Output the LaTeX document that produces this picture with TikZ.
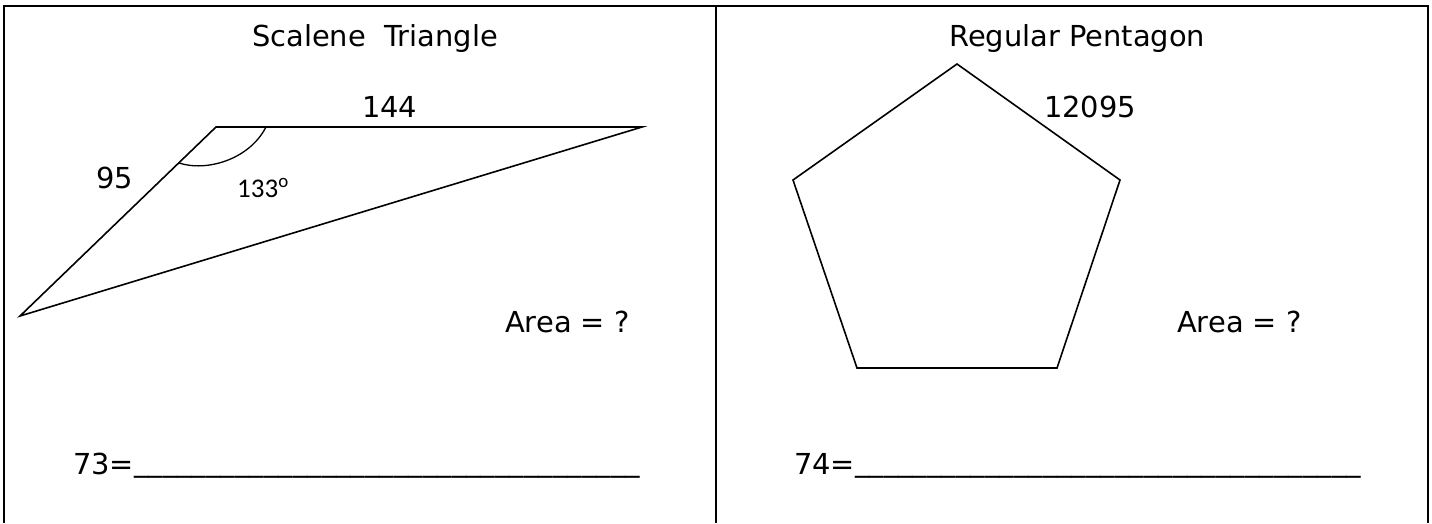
\documentclass[tikz,border=0pt]{standalone}
\usepackage{fontspec}
\setmainfont{DejaVu Sans}
\newfontfamily\anglefont{Carlito}
\usetikzlibrary{calc}
\tikzset{
  frameline/.style={line width=2pt, draw=black},
  figline/.style={line width=1.6pt, draw=black, line join=miter},
  arcline/.style={line width=1.3pt, draw=black},
  heading/.style={inner sep=0pt, anchor=base west, font=\fontsize{28.9}{34}\selectfont},
  dimtext/.style={inner sep=0pt, anchor=base west, font=\fontsize{28.9}{34}\selectfont},
  angletext/.style={inner sep=0pt, anchor=base west, font=\anglefont\fontsize{27}{32}\selectfont},
  answer/.style={inner sep=0pt, anchor=base west, font=\fontsize{28.9}{34}\selectfont}
}
\newcommand{\blank}{\raisebox{3pt}{\_\_\_\_\_\_\_\_\_\_\_\_\_\_\_\_\_\_\_\_\_\_\_\_\_\_\_\_\_\_\_\_\_\_\_}}

\begin{document}
\begin{tikzpicture}[x=1pt, y=-1pt]
\useasboundingbox (0,0) rectangle (1432,523);
\draw[frameline] (4,523) -- (4,6) -- (1428,6) -- (1428,523);
\draw[frameline] (716,6) -- (716,523);
% left panel
\node[heading] (ttri) at (252,46) {Scalene\ \ Triangle};
\coordinate (ta) at (216,127);
\coordinate (tb) at (642,127);
\coordinate (tc) at (20,316);
\draw[figline] (ta) -- (tb) -- (tc) -- cycle;
\coordinate (arcs) at (266,127);
\coordinate (arce) at ($(ta)!0.19!(tc)$);
\draw[arcline] (arcs) .. controls (249,160) and (206,172) .. (arce);
\node[dimtext] (top) at (362,117) {144};
\node[dimtext] (side) at (96,188) {95};
\node[angletext] (ang) at (237,197) {133\textsuperscript{o}};
\node[dimtext] (areal) at (505,332) {Area = ?};
\node[answer] (ansl) at (73,474) {73=\blank};
% right panel
\node[heading] (tpen) at (949,46) {Regular Pentagon};
\coordinate (pa) at (957,64);
\coordinate (pb) at (1120,180);
\coordinate (pc) at (1057,368);
\coordinate (pd) at (857,368);
\coordinate (pe) at (793,180);
\draw[figline] (pa) -- (pb) -- (pc) -- (pd) -- (pe) -- cycle;
\node[dimtext] (sidep) at (1044,117) {12095};
\node[dimtext] (arear) at (1177,332) {Area = ?};
\node[answer] (ansr) at (794,474) {74=\blank};
\end{tikzpicture}
\end{document}
